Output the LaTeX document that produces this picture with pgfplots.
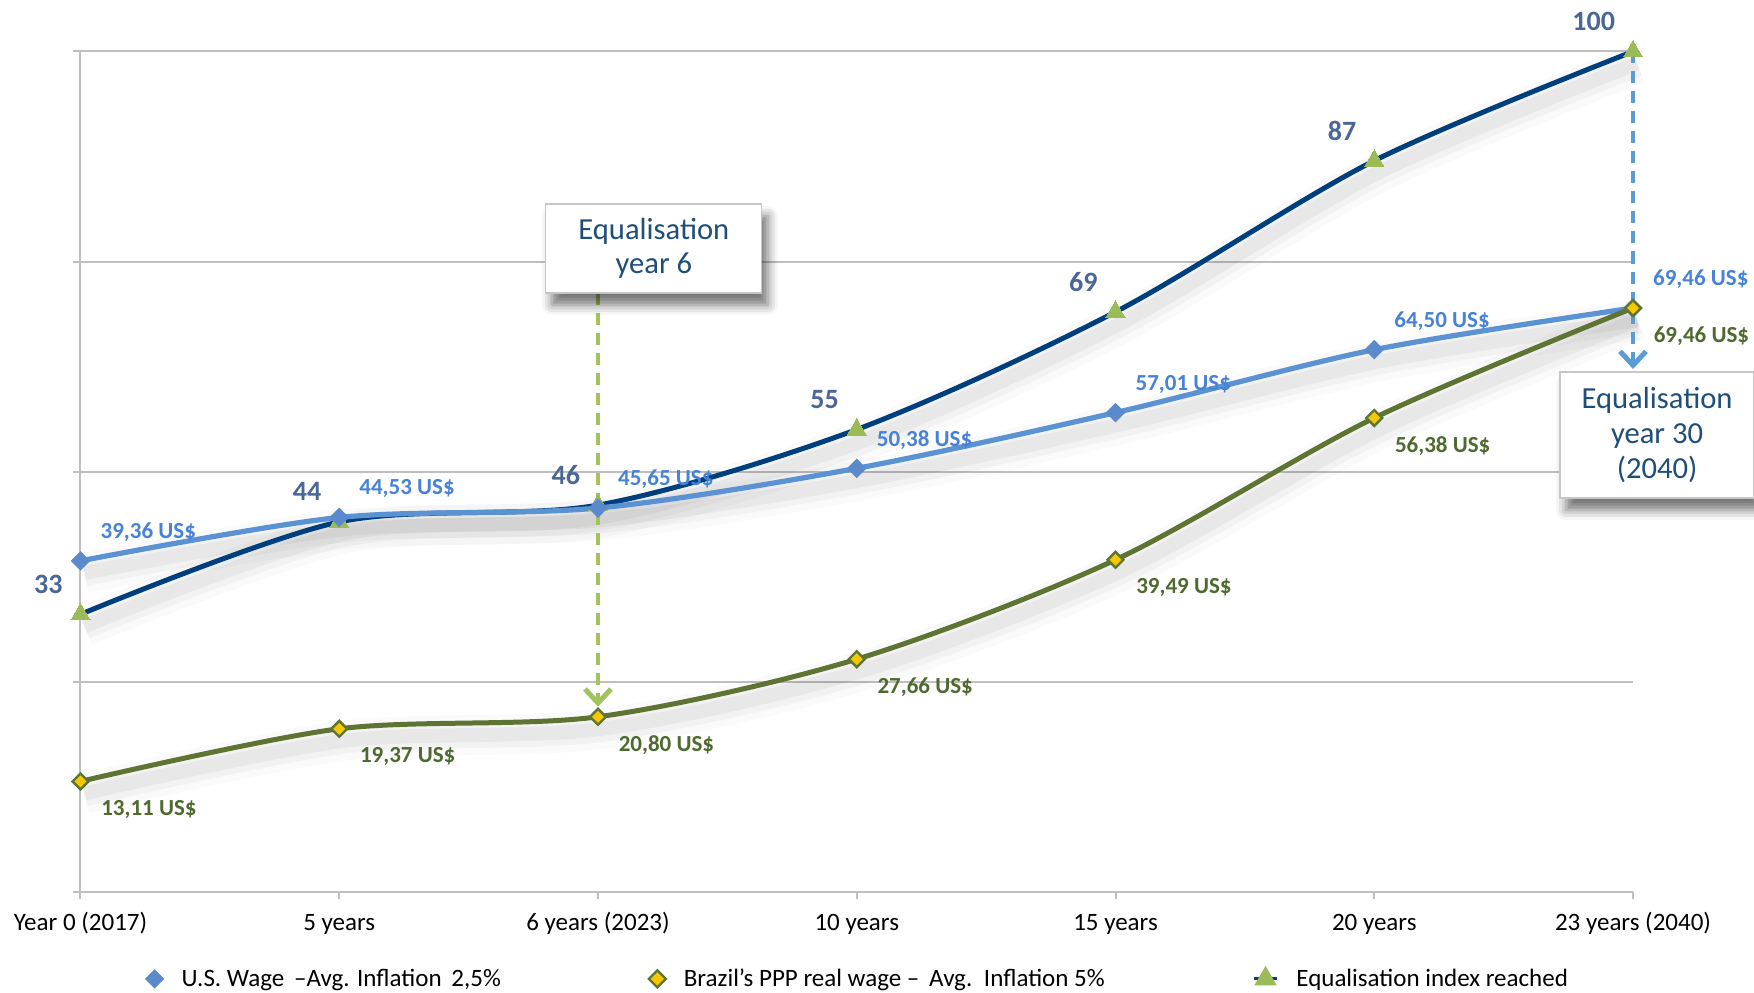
\documentclass[border=0pt]{standalone}
\usepackage{fontspec}
\setmainfont{Carlito}
\usepackage{pgfplots}
\usepackage{pgfplotstable}
\pgfplotsset{compat=1.18}
\usetikzlibrary{arrows.meta,shadows.blur}

\definecolor{usblue}{HTML}{5B92D3}
\definecolor{usmark}{HTML}{5A8ACB}
\definecolor{uslabel}{HTML}{4682D8}
\definecolor{navy}{HTML}{003F7D}
\definecolor{olive}{HTML}{5E7433}
\definecolor{olivelabel}{HTML}{4F6A2E}
\definecolor{gold}{HTML}{F5C800}
\definecolor{trigreen}{HTML}{9BBB59}
\definecolor{idxlabel}{HTML}{4A6797}
\definecolor{boxtext}{HTML}{1F4E79}
\definecolor{arrowgreen}{HTML}{A2C35E}
\definecolor{arrowblue}{HTML}{5B9BD5}
\definecolor{gridgray}{HTML}{BFBFBF}

% wage paths (US$) and equalisation index per horizon
\pgfplotstableread{
x us brazil index
0 39.36 13.11 33
1 44.53 19.37 44
2 45.65 20.80 46
3 50.38 27.66 55
4 57.01 39.49 69
5 64.50 56.38 87
6 69.46 69.46 100
}\wages

% soft, layered shadow under a curve
\pgfplotsset{
  softshadow/.style={forget plot, black, opacity=#1, smooth, tension=0.5,
    transform canvas={xshift=2pt,yshift=-6pt}},
}

\begin{document}
\begin{tikzpicture}
\useasboundingbox (-40.25pt,-50.25pt) rectangle (836.75pt,445.75pt);
\begin{axis}[
  scale only axis, width=776.25pt, height=420pt,
  xmin=0, xmax=6, ymin=0, ymax=100,
  axis x line*=bottom, axis y line*=left,
  axis line style={gridgray, line width=1pt, -},
  xtick={0,...,6},
  xticklabels={Year 0 (2017), 5 years, 6 years (2023), 10 years, 15 years, 20 years, 23 years (2040)},
  ytick={0,25,50,75,100}, yticklabels={},
  ymajorgrids, grid style={gridgray, line width=1pt},
  tick align=outside, major tick length=3.5pt,
  tick style={gridgray, line width=1pt},
  xticklabel style={font=\fontsize{12.5}{15}\selectfont, anchor=base, yshift=-16.2pt},
  clip=false,
  legend columns=3,
  legend style={at={(0.0416,-0.104)}, anchor=west, draw=none, fill=none,
    font=\fontsize{12.5}{15}\selectfont, inner xsep=0pt, inner ysep=0pt,
    /tikz/every even column/.append style={column sep=72pt},
    /tikz/every odd column/.append style={column sep=7pt}},
]
% shadows under the three lines
\foreach \col in {index,us,brazil}{
  \addplot[softshadow=0.02, line width=20pt] table[x=x,y=\col]{\wages};
  \addplot[softshadow=0.03, line width=13pt] table[x=x,y=\col]{\wages};
  \addplot[softshadow=0.045, line width=7pt] table[x=x,y=\col]{\wages};
}

% equalisation index
\addplot[forget plot, navy, line width=2.5pt, smooth, tension=0.5,
  mark=triangle*, mark size=5.5pt, mark options={fill=trigreen, draw=trigreen, line width=0pt},
  point meta=y,
  nodes near coords={\pgfmathprintnumber[fixed, precision=0, assume math mode=true]{\pgfplotspointmeta}},
  every node near coord/.append style={anchor=east, xshift=-9pt, yshift=15pt, inner sep=0pt,
    font=\bfseries\fontsize{14}{16}\selectfont, text=idxlabel}
] table[x=x, y=index] {\wages};

% US wage
\addplot[forget plot, usblue, line width=2.6pt, smooth, tension=0.5,
  mark=square*, mark size=3.2pt, mark options={rotate=45, fill=usmark, draw=usmark, line width=0.5pt},
  point meta=y,
  nodes near coords={\pgfmathprintnumber[fixed, fixed zerofill, precision=2, use comma, assume math mode=true]{\pgfplotspointmeta}~US\$},
  every node near coord/.append style={anchor=west, xshift=9.8pt, yshift=14.3pt, inner sep=0pt,
    font=\bfseries\fontsize{11.5}{13}\selectfont, text=uslabel}
] table[x=x, y=us] {\wages};

% Brazil PPP real wage
\addplot[forget plot, olive, line width=2.5pt, smooth, tension=0.5,
  mark=square*, mark size=2.8pt, mark options={rotate=45, fill=gold, draw=olive, line width=1.2pt},
  point meta=y,
  nodes near coords={\pgfmathprintnumber[fixed, fixed zerofill, precision=2, use comma, assume math mode=true]{\pgfplotspointmeta}~US\$},
  every node near coord/.append style={anchor=west, xshift=9.8pt, yshift=-14pt, inner sep=0pt,
    font=\bfseries\fontsize{11.5}{13}\selectfont, text=olivelabel}
] table[x=x, y=brazil] {\wages};

% legend
\addlegendimage{only marks, mark=square*, mark size=3.2pt, mark options={rotate=45, fill=usmark, draw=usmark}}
\addlegendentry{U.S. Wage \,–Avg. Inflation \,2,5\%}
\addlegendimage{only marks, mark=square*, mark size=3pt, mark options={rotate=45, fill=gold, draw=olive, line width=1.2pt}}
\addlegendentry{Brazil's PPP real wage – \,Avg. \,Inflation 5\%}
\addlegendimage{legend image code/.code={\draw[navy, line width=1.5pt, mark repeat=2, mark phase=2,
    mark=triangle*, mark size=5pt, mark options={fill=trigreen, draw=trigreen}]
    plot coordinates {(0cm,0cm) (0.2cm,0cm) (0.4cm,0cm)};}}
\addlegendentry{Equalisation index reached}

% equalisation arrows
\draw[arrowgreen, line width=2.2pt, dash pattern=on 6pt off 4pt,
  -{Straight Barb[length=7pt, width=13pt, line width=2.5pt]}] (axis cs:2,71.25) -- (axis cs:2,22);
\draw[arrowblue, line width=2.2pt, dash pattern=on 6pt off 4pt,
  -{Straight Barb[length=7pt, width=13pt, line width=2.5pt]}] (axis cs:6,100) -- (axis cs:6,62.2);

% call-out boxes
\node[draw=gray!45, fill=white, line width=0.6pt,
  blur shadow={shadow xshift=3pt, shadow yshift=-6pt, shadow blur radius=5pt, shadow opacity=55},
  minimum width=108pt, minimum height=44.5pt, align=center, text=boxtext, inner sep=0pt,
  font=\fontsize{15.3}{16.8}\selectfont] at (axis cs:2.216,76.55) {Equalisation\\year 6};
\node[draw=gray!45, fill=white, line width=0.6pt,
  blur shadow={shadow xshift=3pt, shadow yshift=-6pt, shadow blur radius=5pt, shadow opacity=55},
  minimum width=97pt, minimum height=63pt, align=center, text=boxtext, inner sep=0pt,
  font=\fontsize{15.3}{17.3}\selectfont] at (axis cs:6.093,54.35) {Equalisation\\year 30\\(2040)};
\end{axis}
\end{tikzpicture}
\end{document}
